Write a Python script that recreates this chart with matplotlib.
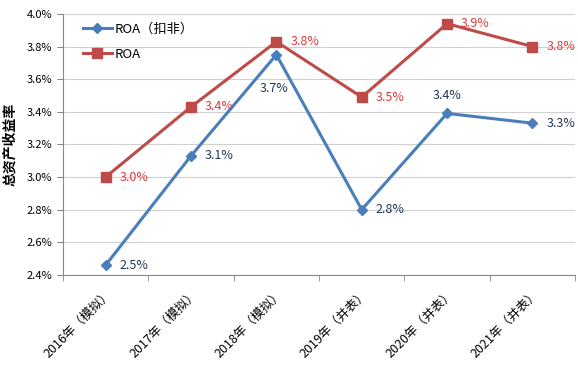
import matplotlib
matplotlib.use('Agg')
import matplotlib.pyplot as plt
import numpy as np

plt.rcParams['font.family'] = ['Noto Sans CJK SC', 'DejaVu Sans']

years = ['2016年（模拟）', '2017年（模拟）', '2018年（模拟）',
         '2019年（并表）', '2020年（并表）', '2021年（并表）']
roa_kf = [2.46, 3.13, 3.75, 2.80, 3.39, 3.33]
roa = [3.00, 3.43, 3.83, 3.49, 3.94, 3.80]
kf_labels = ['2.5%', '3.1%', '3.7%', '2.8%', '3.4%', '3.3%']
roa_labels = ['3.0%', '3.4%', '3.8%', '3.5%', '3.9%', '3.8%']

blue = '#4A7EBB'
red = '#BE4B48'

fig = plt.figure(figsize=(5.78, 3.66), dpi=100)
ax = fig.add_axes([0.109, 0.249, 0.886, 0.713])

x = np.arange(len(years))
ax.plot(x, roa_kf, color=blue, linewidth=2.2, marker='D', markersize=5, label='ROA（扣非）')
ax.plot(x, roa, color=red, linewidth=2.2, marker='s', markersize=7, label='ROA')

# data labels
kf_off = [(10, 0, 'left', 'center'), (10, 0, 'left', 'center'), (-2, -24, 'center', 'center'),
          (10, 0, 'left', 'center'), (0, 8, 'center', 'bottom'), (10, 0, 'left', 'center')]
for i, (v, t) in enumerate(zip(roa_kf, kf_labels)):
    dx, dy, ha, va = kf_off[i]
    ax.annotate(t, (x[i], v), xytext=(dx, dy), textcoords='offset points',
                ha=ha, va=va, fontsize=9, color='#1F3557')
for i, (v, t) in enumerate(zip(roa, roa_labels)):
    ax.annotate(t, (x[i], v), xytext=(10, 0), textcoords='offset points',
                ha='left', va='center', fontsize=9, color='#E03A3A')

ax.set_xlim(-0.5, len(years) - 0.5)
ax.set_ylim(2.4, 4.0)
ax.set_yticks(np.arange(2.4, 4.01, 0.2))
ax.set_yticklabels(['%.1f%%' % v for v in np.arange(2.4, 4.01, 0.2)], fontsize=8)
ax.set_xticks(x)
ax.set_xticklabels(years, rotation=45, ha='right', rotation_mode='anchor', fontsize=9)
ax.set_xticks(np.arange(-0.5, len(years), 1), minor=True)
ax.tick_params(axis='x', which='major', length=0, pad=9)
ax.tick_params(axis='x', which='minor', length=4, color='#888888')
ax.tick_params(axis='y', length=4, color='#888888')

ax.grid(axis='y', color='#D0D0D0', linewidth=0.8)
ax.set_axisbelow(True)
for s in ['top', 'right']:
    ax.spines[s].set_visible(False)
ax.spines['left'].set_color('#888888')
ax.spines['bottom'].set_color('#888888')

ax.set_ylabel('总资产收益率', fontsize=10, fontweight='bold', labelpad=7)
ax.legend(loc='upper left', frameon=False, fontsize=9.5, handlelength=2.2,
          handletextpad=0.2, labelspacing=0.9, borderpad=0, borderaxespad=0,
          bbox_to_anchor=(0.039, 0.965))

fig.savefig('out.png', dpi=100)
